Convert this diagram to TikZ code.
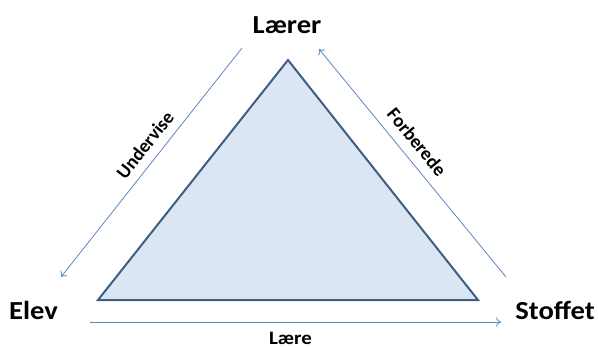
\documentclass[tikz,border=0pt]{standalone}
\usepackage{fontspec}
\setmainfont{Carlito}
\usetikzlibrary{arrows.meta}
\begin{document}
\begin{tikzpicture}[x=1pt,y=-1pt,
  corner/.style={font=\bfseries\fontsize{26}{28}\selectfont,xscale=1.1,inner sep=0pt},
  relabel/.style={font=\bfseries\fontsize{19}{21}\selectfont,inner sep=0pt},
  rel/.style={draw=arrowblue,line width=0.8pt,-{To[length=5pt,width=9pt]}},
  tri/.style={draw=edgeblue,fill=fillblue,line width=2pt,line join=miter}]
\definecolor{arrowblue}{HTML}{5B87C3}
\definecolor{edgeblue}{HTML}{3E5E85}
\definecolor{fillblue}{HTML}{DCE6F2}
\useasboundingbox (0,0) rectangle (598,348);
\coordinate (A) at (288,60);
\coordinate (B) at (98,300);
\coordinate (C) at (478,300);
\filldraw[tri] (A) -- (B) -- (C) -- cycle;
\node[corner] (laerer) at (287,25) {Lærer};
\node[corner] (elev) at (33.5,310) {Elev};
\node[corner] (stoffet) at (555,310) {Stoffet};
\coordinate (u1) at (242,48);
\coordinate (u2) at (61,277);
\coordinate (f1) at (506,277);
\coordinate (f2) at (319,49);
\coordinate (l1) at (90,322);
\coordinate (l2) at (501,322);
\draw[rel] (u1) -- (u2);
\draw[rel] (f1) -- (f2);
\draw[rel] (l1) -- (l2);
\node[relabel,rotate=51.7] (undervise) at (145,145) {Undervise};
\node[relabel,rotate=-50.6] (forberede) at (417,142) {Forberede};
\node[relabel,xscale=1.1] (laere) at (290.5,338) {Lære};
\end{tikzpicture}
\end{document}
